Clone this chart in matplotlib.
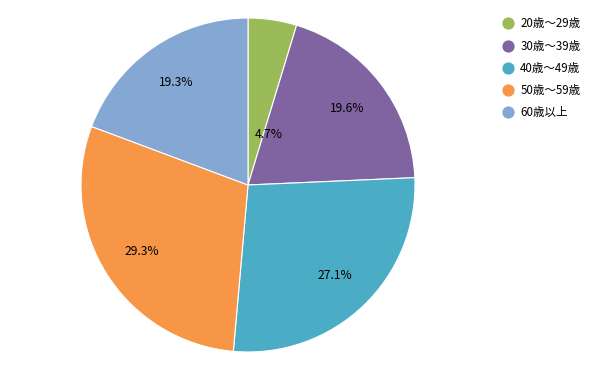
import matplotlib
matplotlib.use("Agg")
import matplotlib.pyplot as plt
from matplotlib.lines import Line2D
import numpy as np

plt.rcParams['font.family'] = ['Noto Sans CJK JP', 'DejaVu Sans']

categories = ['20歳～29歳', '30歳～39歳', '40歳～49歳', '50歳～59歳', '60歳以上']
values = [4.7, 19.6, 27.1, 29.3, 19.3]
colors = ['#9BBB59', '#8064A2', '#4BACC6', '#F79646', '#84A7D3']

fig = plt.figure(figsize=(6, 3.71), dpi=100)
cx, cy, r = 248 / 600, 1 - 185 / 371, 167
ax = fig.add_axes([cx - r / 600, cy - r / 371, 2 * r / 600, 2 * r / 371])
wedges, texts, autotexts = ax.pie(
    values, colors=colors, startangle=90, counterclock=False,
    autopct='%1.1f%%', pctdistance=0.75, radius=1,
    wedgeprops=dict(edgecolor='white', linewidth=0.8),
    textprops=dict(fontsize=8.7, color='#000000'))
# small slice label sits closer to the centre
w0 = wedges[0]
ang = np.deg2rad((w0.theta1 + w0.theta2) / 2 - 12)
autotexts[0].set_position((0.35 * np.cos(ang), 0.32 * np.sin(ang)))
ax.set_xlim(-1, 1)
ax.set_ylim(-1, 1)
ax.set_aspect('auto')
ax.axis('off')

handles = [Line2D([], [], marker='o', linestyle='none', markersize=7.8,
                  markerfacecolor=c, markeredgecolor=c) for c in colors]
fig.legend(handles, categories, loc='upper left', bbox_to_anchor=(0.82, 0.981),
           frameon=False, fontsize=8.3, handlelength=1.0, handletextpad=0.55,
           labelspacing=0.8)

fig.savefig('out.png', dpi=100, facecolor='white')
